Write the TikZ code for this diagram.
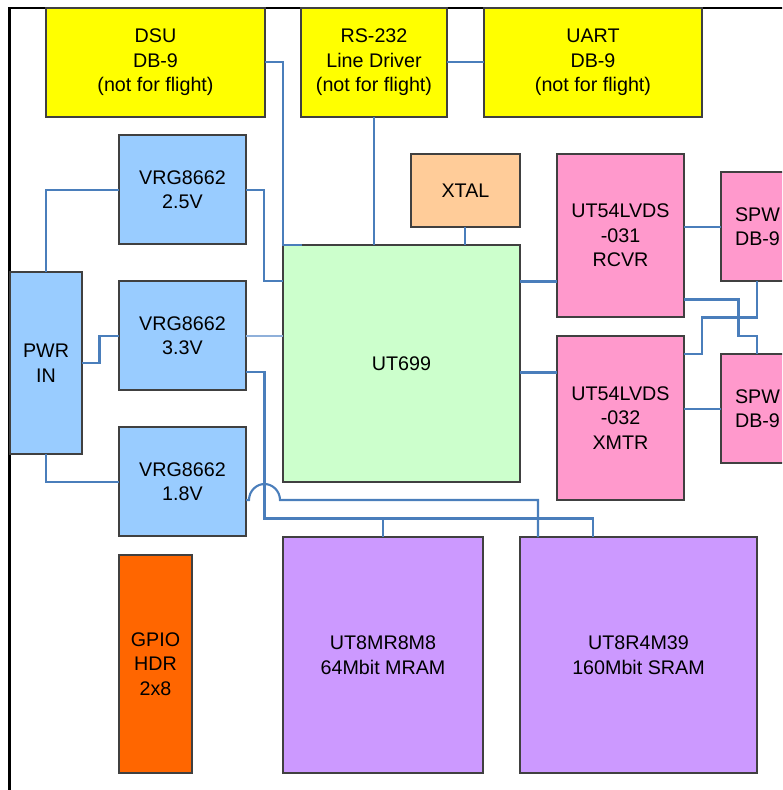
\documentclass[tikz,border=0pt]{standalone}
\usepackage{fontspec}
\setmainfont{Liberation Sans}
\definecolor{yel}{HTML}{FFFF00}
\definecolor{vblue}{HTML}{99CCFF}
\definecolor{vgreen}{HTML}{CCFFCC}
\definecolor{vorange}{HTML}{FFCC99}
\definecolor{vpink}{HTML}{FF99CC}
\definecolor{vpurple}{HTML}{CC99FF}
\definecolor{gpio}{HTML}{FF6600}
\definecolor{wirec}{HTML}{4A7EBB}
\definecolor{wirelight}{HTML}{8FB0DA}
\definecolor{edge}{HTML}{404040}
\begin{document}
\begin{tikzpicture}[x=1pt,y=-1pt,
  bx/.style={draw=edge,line width=1.3pt,rectangle,inner sep=0pt,outer sep=0pt,
    align=center,font=\fontsize{19.7}{24.5}\selectfont},
  wire/.style={draw=wirec,line width=2.1pt,line join=miter},
  thinwire/.style={draw=wirelight,line width=1.2pt},
  board/.style={draw=black}]
\useasboundingbox (0,0) rectangle (782,790);
\clip (0,0) rectangle (782,790);
% board outline
\draw[board,line width=3pt] (9.5,792) -- (9.5,6.5);
\draw[board,line width=2pt] (8,7.5) -- (784,7.5);
% boxes
\node[bx,fill=yel,minimum width=219pt,minimum height=109pt] (dsu) at (155.5,62.5) {DSU\\DB-9\\(not for flight)};
\node[bx,fill=yel,minimum width=146pt,minimum height=109pt] (rs) at (374,62.5) {RS-232\\Line Driver\\(not for flight)};
\node[bx,fill=yel,minimum width=218pt,minimum height=109pt] (uart) at (593,62.5) {UART\\DB-9\\(not for flight)};
\node[bx,fill=vblue,minimum width=127pt,minimum height=109pt] (v25) at (182.5,189.5) {VRG8662\\2.5V};
\node[bx,fill=vblue,minimum width=127pt,minimum height=109pt] (v33) at (182.5,335.5) {VRG8662\\3.3V};
\node[bx,fill=vblue,minimum width=127pt,minimum height=109pt] (v18) at (182.5,481.5) {VRG8662\\1.8V};
\node[bx,fill=vblue,minimum width=72pt,minimum height=182pt] (pwr) at (46,363) {PWR\\IN};
\node[bx,fill=gpio,minimum width=73pt,minimum height=218pt] (gpio) at (155.5,664) {GPIO\\HDR\\2x8};
\node[bx,fill=vorange,minimum width=109pt,minimum height=73pt] (xtal) at (465.5,190.5) {XTAL};
\node[bx,fill=vgreen,minimum width=237pt,minimum height=237pt] (cpu) at (401.5,363.5) {UT699};
\node[bx,fill=vpink,minimum width=127pt,minimum height=163pt] (rcvr) at (620.5,235.5) {UT54LVDS\\-031\\RCVR};
\node[bx,fill=vpink,minimum width=127pt,minimum height=164pt] (xmtr) at (620.5,418) {UT54LVDS\\-032\\XMTR};
\node[bx,fill=vpink,minimum width=73pt,minimum height=109pt] (spwa) at (757.5,226.5) {SPW\\DB-9};
\node[bx,fill=vpink,minimum width=73pt,minimum height=109pt] (spwb) at (757.5,408.5) {SPW\\DB-9};
\node[bx,fill=vpurple,minimum width=200pt,minimum height=236pt] (mram) at (383,655) {UT8MR8M8\\64Mbit MRAM};
\node[bx,fill=vpurple,minimum width=237pt,minimum height=236pt] (sram) at (638.5,655) {UT8R4M39\\160Mbit SRAM};
% connectors
\draw[wire] (dsu.east |- 0,62) -- (283,62) -- (283,245) -- (cpu.north west -| 302,0);
\draw[wire] (rs.south) -- (cpu.north -| rs.south);
\draw[wire] (rs.east |- 0,62) -- (uart.west |- 0,62);
\draw[wire] (xtal.south -| 465,0) -- (cpu.north -| 465,0);
\draw[wire] (v25.west |- 0,190) -- (46,190) -- (pwr.north);
\draw[wire] (v25.east |- 0,190) -- (264,190) -- (264,281) -- (cpu.west |- 0,281);
\draw[wire] (pwr.east |- 0,363) -- (99.5,363) -- (99.5,336) -- (v33.west |- 0,336);
\draw[thinwire] (v33.east |- 0,336) -- (cpu.west |- 0,336);
\draw[wire] (v33.east |- 0,372) -- (264.5,372) -- (264.5,518.5) -- (593,518.5) -- (sram.north -| 593,0);
\draw[wire] (383,518.5) -- (mram.north -| 383,0);
\draw[wire] (v18.east |- 0,500) -- (249,500) .. controls (249,491.2) and (256.2,484) .. (264.5,484) .. controls (272.8,484) and (280,491.2) .. (280,500) -- (538,500) -- (sram.north -| 538,0);
\draw[wire] (pwr.south) -- (46,482) -- (v18.west |- 0,482);
\draw[wire] (cpu.east |- 0,281.5) -- (rcvr.west |- 0,281.5);
\draw[wire] (cpu.east |- 0,372.5) -- (xmtr.west |- 0,372.5);
\draw[wire] (rcvr.east |- 0,227) -- (spwa.west |- 0,227);
\draw[wire] (xmtr.east |- 0,409) -- (spwb.west |- 0,409);
\draw[wire] (rcvr.east |- 0,299.5) -- (738.5,299.5) -- (738.5,336) -- (757,336) -- (spwb.north -| 757,0);
\draw[wire] (xmtr.east |- 0,354) -- (702,354) -- (702,317.5) -- (757,317.5) -- (spwa.south -| 757,0);
\end{tikzpicture}
\end{document}
